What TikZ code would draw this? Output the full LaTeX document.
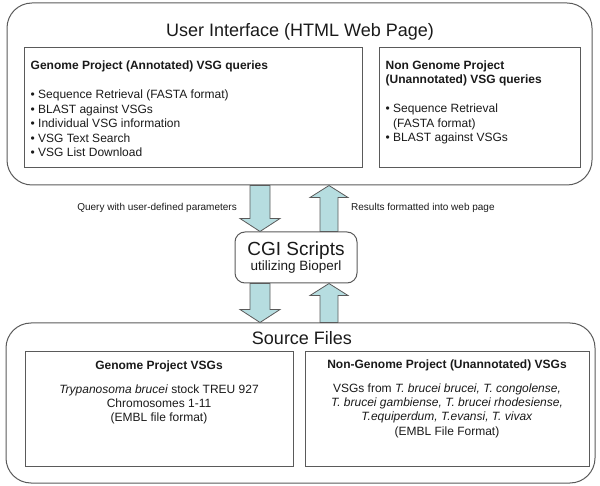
\documentclass[tikz,border=0pt]{standalone}
\usepackage{fontspec}
\setmainfont{Liberation Sans}
\usetikzlibrary{positioning,calc}
\definecolor{edge}{HTML}{5A5A5A}
\definecolor{pipe}{HTML}{B6DDE0}
\definecolor{ink}{HTML}{1A1A1A}
\tikzset{layer/.style={draw=edge,rounded corners=25pt,line width=1pt,inner sep=0pt},panel/.style={draw=edge,line width=1pt,inner sep=0pt},bigtitle/.style={font=\fontsize{18}{21}\selectfont,text=ink,inner sep=0pt},listtext/.style={font=\fontsize{12}{14.5}\selectfont,text=ink,align=left,inner sep=0pt,anchor=north west},srctext/.style={font=\fontsize{12}{14.2}\selectfont,text=ink,align=center,inner sep=0pt,anchor=north},flowlabel/.style={font=\fontsize{10}{12}\selectfont,text=ink,inner sep=0pt},pipedown/.style={draw=edge,fill=pipe,line width=0.8pt,to path={($(\tikztostart)+(-10,0)$) -- ($(\tikztotarget)+(-10,-13)$) -- ($(\tikztotarget)+(-20,-13)$) -- (\tikztotarget) -- ($(\tikztotarget)+(20,-13)$) -- ($(\tikztotarget)+(10,-13)$) -- ($(\tikztostart)+(10,0)$) -- cycle}},pipeup/.style={draw=edge,fill=pipe,line width=0.8pt,to path={($(\tikztostart)+(-9,0)$) -- ($(\tikztotarget)+(-9,12)$) -- ($(\tikztotarget)+(-19,12)$) -- (\tikztotarget) -- ($(\tikztotarget)+(19,12)$) -- ($(\tikztotarget)+(9,12)$) -- ($(\tikztostart)+(9,0)$) -- cycle}}}

\begin{document}
\begin{tikzpicture}[x=1pt,y=-1pt]
\useasboundingbox (0,0) rectangle (600,486);
% user interface layer
\node[layer,minimum width=585pt,minimum height=182pt] (ui) at (299.5,94) {};
\node[bigtitle] (uititle) at (300,32) {User Interface (HTML Web Page)};
\node[panel,minimum width=338pt,minimum height=120pt] (gq) at (193,108) {};
\node[panel,minimum width=201pt,minimum height=120pt] (nq) at (479.5,108) {};
\node[listtext] (gqtext) at ([shift={(7,13)}]gq.north west) {\textbf{Genome Project (Annotated) VSG queries}\\[15pt]
• Sequence Retrieval (FASTA format)\\
• BLAST against VSGs\\
• Individual VSG information\\
• VSG Text Search\\
• VSG List Download};
\node[listtext] (nqtext) at ([shift={(7,13)}]nq.north west) {\textbf{Non Genome Project}\\
\textbf{(Unannotated) VSG queries}\\[14.5pt]
• Sequence Retrieval\\
\phantom{• }(FASTA format)\\
• BLAST against VSGs};
% scripts
\node[panel,rounded corners=10pt,minimum width=122pt,minimum height=51pt,align=center,text=ink] (cgi) at (296,257.5) {{\fontsize{19}{20}\selectfont CGI Scripts}\\[1pt]{\fontsize{13.5}{15}\selectfont utilizing Bioperl}};
% source files layer
\node[layer,minimum width=589pt,minimum height=160pt] (src) at (300.5,403) {};
\node[bigtitle] (srctitle) at (302,338) {Source Files};
\node[panel,minimum width=268pt,minimum height=114pt] (gsrc) at (159,409) {};
\node[panel,minimum width=284pt,minimum height=114pt] (nsrc) at (447,409) {};
\node[srctext] (gsrctext) at ([yshift=-9pt]gsrc.north) {\textbf{Genome Project VSGs}\\[10pt]
\textit{Trypanosoma brucei} stock TREU 927\\
Chromosomes 1-11\\
(EMBL file format)};
\node[srctext] (nsrctext) at ([yshift=-8pt]nsrc.north) {\textbf{Non-Genome Project (Unannotated) VSGs}\\[10pt]
VSGs from \textit{T. brucei brucei, T. congolense,}\\
\textit{T. brucei gambiense, T. brucei rhodesiense,}\\
\textit{T.equiperdum, T.evansi, T. vivax}\\
(EMBL File Format)};
% flows
\coordinate (qx) at (260,0);
\coordinate (rx) at (329,0);
\draw[pipedown] (ui.south -| qx) to (cgi.north -| qx);
\draw[pipeup] (cgi.north -| rx) to (ui.south -| rx);
\draw[pipedown] (cgi.south -| qx) to (src.north -| qx);
\draw[pipeup] (src.north -| rx) to (cgi.south -| rx);
\node[flowlabel,anchor=east] (qlabel) at (237,208) {Query with user-defined parameters};
\node[flowlabel,anchor=west] (rlabel) at (351,208) {Results formatted into web page};
\end{tikzpicture}
\end{document}
